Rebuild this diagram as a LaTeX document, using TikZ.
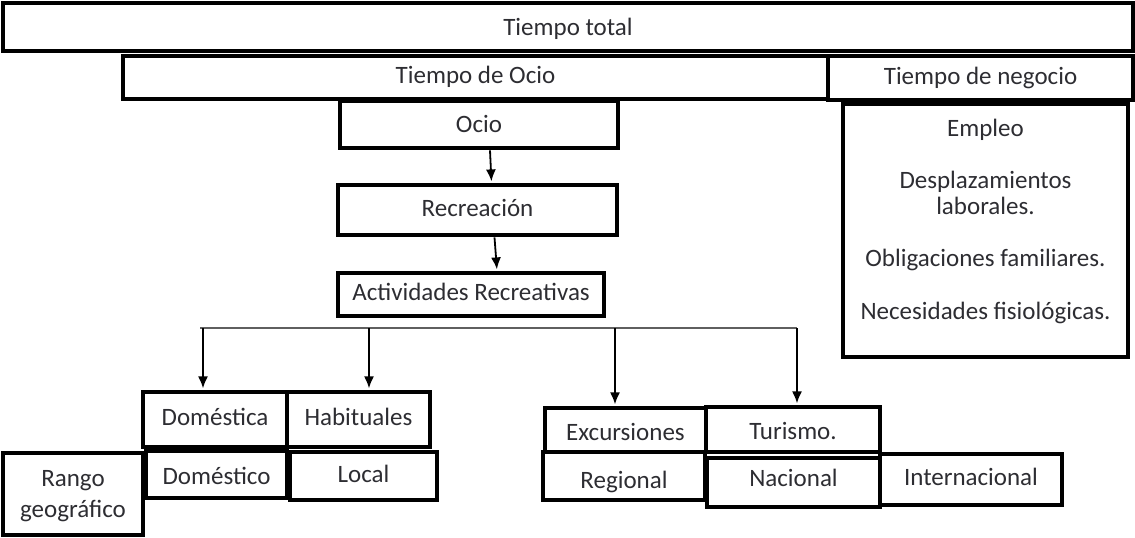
\documentclass[tikz,border=0pt]{standalone}
\usepackage{fontspec}
\setmainfont{Carlito}
\usetikzlibrary{arrows.meta,calc,fit,positioning}
\definecolor{tinta}{RGB}{45,45,50}
\definecolor{rama}{RGB}{95,95,95}

\begin{document}
\begin{tikzpicture}[x=0.5pt,y=-0.5pt,>={Latex[length=6pt,width=5pt]},
  font=\fontsize{12.5}{12.8}\selectfont,text=tinta,
  caja/.style={draw,line width=2.4pt,inner sep=0pt},
  rotulo/.style 2 args={label={[text height=8.5pt,text depth=2.5pt,yshift=#2]center:#1}},
  flecha/.style={->,line width=0.9pt,shorten >=0.6pt}]
\useasboundingbox (0,0) rectangle (1135,537);
% niveles superiores
\node[caja,fit={(3,3) (1133,51)},rotulo={Tiempo total}{-1pt}] (total) {};
\node[caja,fit={(123,56) (828,99)},rotulo={Tiempo de Ocio}{0pt}] (tocio) {};
\node[caja,fit={(828,56) (1133,100)},rotulo={Tiempo de negocio}{0pt}] (negocio) {};
\node[caja,fit={(340,101) (618,148)},rotulo={Ocio}{-1pt}] (ocio) {};
\node[caja,fit={(338,185) (617,235)},rotulo={Recreación}{0pt}] (rec) {};
\node[caja,fit={(338,273) (604,316)},rotulo={Actividades Recreativas}{0pt}] (act) {};
\node[caja,fit={(843,104) (1128,357)}] (lista) {};
\node[align=center,below=5pt of lista.north] (tareas) {Empleo\\[13.5pt]
  Desplazamientos\\laborales.\\[13.5pt]
  Obligaciones familiares.\\[13.5pt]
  Necesidades fisiológicas.};
\draw[flecha] ($(ocio.south)+(11,0)$) -- ($(rec.north)+(14,0)$);
\draw[flecha] ($(rec.south)+(17,0)$) -- ($(act.north)+(26,0)$);
% tipos de actividades
\node[caja,fit={(143,392) (287,447)},rotulo={Doméstica}{0pt}] (domA) {};
\node[caja,fit={(287,392) (430,447)},rotulo={Habituales}{0pt}] (hab) {};
\node[caja,fit={(545,408) (706,452)},rotulo={Excursiones}{-2pt}] (exc) {};
\node[caja,fit={(706,407) (880,452)},rotulo={Turismo.}{-2pt}] (tur) {};
% rango geografico
\node[caja,fit={(3,453) (143,535)},
  label={[align=center,yshift=-1pt]center:Rango\\[3pt]geográfico}] (rango) {};
\node[caja,fit={(146,451) (287,498)},rotulo={Doméstico}{-2pt}] (domO) {};
\node[caja,fit={(290,452) (437,500)},rotulo={Local}{0pt}] (local) {};
\node[caja,fit={(543,452) (705,500)},rotulo={Regional}{-3pt}] (reg) {};
\node[caja,fit={(707,458) (880,507)},rotulo={Nacional}{1pt}] (nac) {};
\node[caja,fit={(880,454) (1062,505)},rotulo={Internacional}{0pt}] (inter) {};
% ramas
\coordinate (ramaA) at (203,328);
\coordinate (ramaB) at (369,328);
\coordinate (ramaC) at (615,328);
\coordinate (ramaD) at (797,328);
\draw[rama,line width=0.7pt] ($(ramaA)+(-3,0)$) -- (ramaD);
\foreach \r/\n in {ramaA/domA,ramaB/hab,ramaC/exc,ramaD/tur}
  \draw[flecha] (\r) -- (\r |- \n.north);
\end{tikzpicture}
\end{document}
